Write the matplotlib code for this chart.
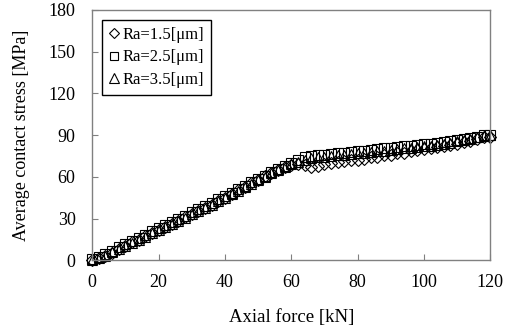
import matplotlib
matplotlib.use("Agg")
import matplotlib.pyplot as plt

plt.rcParams['font.family'] = ['Liberation Serif', 'DejaVu Serif']

# axial force [kN]
force = [0, 2, 4, 6, 8, 10, 12, 14, 16, 18, 20, 22, 24, 26, 28, 30, 32, 34, 36, 38,
         40, 42, 44, 46, 48, 50, 52, 54, 56, 58, 60, 62, 64, 66, 68, 70, 72, 74, 76, 78,
         80, 82, 84, 86, 88, 90, 92, 94, 96, 98, 100, 102, 104, 106, 108, 110, 112, 114,
         116, 118, 120]

# average contact stress [MPa]
ra15 = [0.5, 1.5, 3.5, 5.5, 8, 10.5, 13, 15, 17.5, 19.5, 22, 24, 26.5, 28.5, 31, 33,
        35.5, 38, 40, 42.5, 45, 47.5, 50.5, 53, 55.5, 58, 60.5, 63, 65, 67, 68.5, 69.5,
        68.5, 67, 68, 69, 70, 70.5, 71.5, 72, 72.5, 73, 74, 74.5, 75.5, 76, 77, 77.5,
        78.5, 79.5, 80, 81, 81.5, 82.5, 83, 84, 85, 86, 87.5, 88.5, 89]
ra25 = [1, 2.5, 4.5, 7, 9.5, 11.5, 14, 16, 18.5, 21, 23, 25.5, 27.5, 30, 32, 34.5,
        37, 39, 41.5, 44, 46, 48.5, 51, 53.5, 56, 58.5, 61, 63.5, 66, 68, 70, 72, 74,
        75, 75.5, 76, 76.5, 77, 77.5, 78, 78.5, 79, 79.5, 80, 80.5, 81, 81.5, 82, 82.5,
        83, 83.5, 84, 84.5, 85, 85.5, 86.5, 87, 88, 89, 90, 90.5]
ra35 = [0, 1.5, 3.5, 6, 8, 10.5, 12.5, 15, 17, 19.5, 21.5, 24, 26, 28.5, 30.5, 33,
        35.5, 37.5, 40, 42.5, 45, 47.5, 50, 52.5, 55, 57.5, 60, 62.5, 65, 67, 69, 71,
        72.5, 73.5, 74, 74.5, 75, 75.5, 76, 76.5, 77, 77.5, 78, 78.5, 79, 79.5, 80,
        80.5, 81, 81.5, 82, 82.5, 83, 84, 84.5, 85.5, 86.5, 87.5, 88.5, 89.5, 90]

labels = ['Ra=1.5[μm]', 'Ra=2.5[μm]', 'Ra=3.5[μm]']

fig = plt.figure(figsize=(5.15, 3.33), dpi=100)
ax = fig.add_axes([0.179, 0.218, 0.773, 0.752])

kw = dict(linestyle='none', markerfacecolor='none', markeredgecolor='black',
          markeredgewidth=0.8, clip_on=False)
ax.plot(force, ra15, marker='D', markersize=6, label=labels[0], **kw)
ax.plot(force, ra25, marker='s', markersize=7, label=labels[1], **kw)
ax.plot(force, ra35, marker='^', markersize=7.5, label=labels[2], **kw)

ax.set_xlim(0, 120)
ax.set_ylim(0, 180)
ax.set_xticks([0, 20, 40, 60, 80, 100, 120])
ax.set_yticks([0, 30, 60, 90, 120, 150, 180])
ax.tick_params(direction='in', length=4, color='#808080', labelsize=13)
ax.tick_params(axis='x', pad=10)
ax.tick_params(axis='y', pad=12)
for s in ax.spines.values():
    s.set_color('#808080')
    s.set_linewidth(1.0)

ax.set_xlabel('Axial force [kN]', fontsize=13.5, labelpad=13)
ax.set_ylabel('Average contact stress [MPa]', fontsize=13, labelpad=13)

leg = ax.legend(loc='upper left', bbox_to_anchor=(0.025, 0.96), fontsize=12,
                frameon=True, fancybox=False, framealpha=1, edgecolor='black',
                handlelength=0.6, handletextpad=0.25, labelspacing=0.4,
                borderpad=0.4, borderaxespad=0, markerscale=0.9)
leg.get_frame().set_linewidth(1.0)

fig.savefig('out.png', dpi=100)
